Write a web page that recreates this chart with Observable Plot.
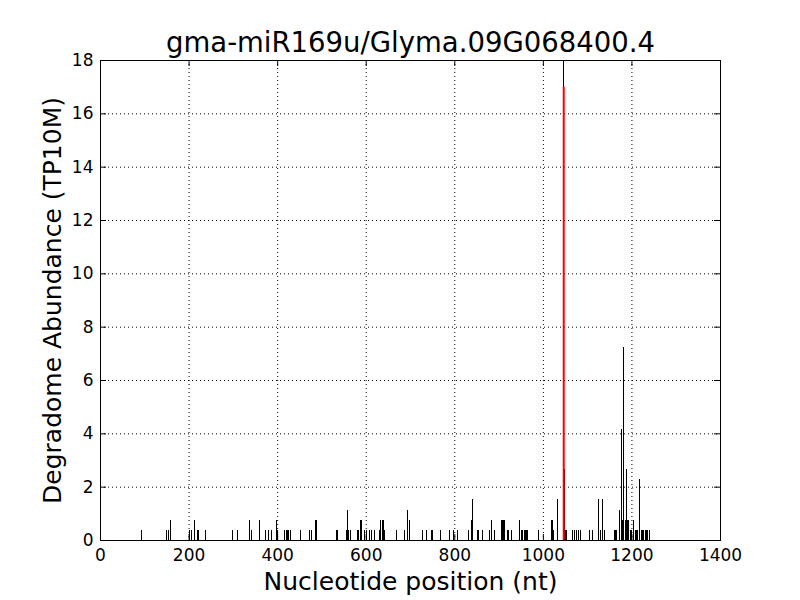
<!DOCTYPE html>
<html>
<head>
<meta charset="utf-8">
<script src="https://cdn.jsdelivr.net/npm/d3@7"></script>
<script src="https://cdn.jsdelivr.net/npm/@observablehq/plot@0.6"></script>
<style>
  html, body { margin: 0; padding: 0; background: #fff; }
</style>
</head>
<body>
<div id="chart"></div>
<script>
const titleText = "gma-miR169u/Glyma.09G068400.4";
const xLabel = "Nucleotide position (nt)";
const yLabel = "Degradome Abundance (TP10M)";

const xTicks = [0, 200, 400, 600, 800, 1000, 1200, 1400];
const yTicks = [0, 2, 4, 6, 8, 10, 12, 14, 16, 18];

// degradome read positions (nt) and abundance (TP10M)
const positions = [
  93, 150, 153, 158, 202, 206, 212, 219, 222, 237,
  299, 310, 337, 341, 360, 373, 379, 386, 398, 400,
  416, 419, 422, 425, 430, 452, 473, 476, 486, 488,
  532, 536, 555, 557, 561, 564, 580, 583, 586, 588,
  590, 596, 601, 608, 612, 618, 629, 633, 636, 639,
  641, 669, 686, 694, 698, 727, 737, 747, 750, 767,
  787, 798, 807, 832, 838, 841, 851, 854, 862, 878,
  884, 890, 905, 907, 910, 912, 919, 922, 928, 945,
  950, 953, 957, 960, 963, 965, 990, 1018, 1021, 1024,
  1033, 1046, 1047, 1048, 1050, 1053, 1066, 1070, 1075, 1079,
  1083, 1104, 1110, 1124, 1128, 1130, 1134, 1137, 1161, 1163,
  1166, 1173, 1176, 1178, 1180, 1182, 1185, 1188, 1190, 1193,
  1196, 1198, 1204, 1207, 1210, 1213, 1216, 1218, 1221, 1224,
  1227, 1230, 1233, 1236, 1239
];
const abundance = [
  0.38, 0.38, 0.38, 0.76, 0.38, 0.38, 0.76, 0.38, 0.38, 0.38,
  0.38, 0.38, 0.76, 0.38, 0.76, 0.38, 0.38, 0.38, 0.76, 0.38,
  0.38, 0.38, 0.38, 0.38, 0.38, 0.38, 0.38, 0.38, 0.76, 0.76,
  0.38, 0.38, 0.38, 1.14, 0.38, 0.38, 0.38, 0.38, 0.76, 0.76,
  0.76, 0.38, 0.38, 0.38, 0.38, 0.38, 0.38, 0.76, 0.76, 0.76,
  0.38, 0.38, 0.38, 1.14, 0.76, 0.38, 0.38, 0.38, 0.38, 0.38,
  0.38, 0.38, 0.38, 0.38, 0.76, 1.52, 0.38, 0.38, 0.38, 0.38,
  0.76, 0.38, 0.76, 0.76, 0.76, 0.76, 0.38, 0.38, 0.38, 0.76,
  0.38, 0.38, 0.38, 0.38, 0.38, 0.38, 0.38, 0.76, 0.76, 0.38,
  1.52, 18.0, 2.66, 0.38, 0.38, 0.38, 0.38, 0.38, 0.38, 0.38,
  0.38, 0.38, 0.38, 1.52, 0.38, 0.38, 1.52, 0.38, 0.38, 0.38,
  0.38, 1.14, 4.18, 0.76, 7.22, 0.76, 0.76, 2.66, 0.76, 0.76,
  0.38, 0.38, 0.76, 0.38, 0.38, 0.38, 0.38, 2.28, 0.38, 0.38,
  0.38, 0.38, 0.38, 0.38, 0.38
];

// predicted cleavage site
const sitePos = [1046];
const siteVal = [17.0];

const reads = positions.map((p, i) => ({pos: p, val: abundance[i]}));
const site = sitePos.map((p, i) => ({pos: p, val: siteVal[i]}));

const dotted = {stroke: "black", strokeWidth: 1, strokeDasharray: "1,3"};

const chart = Plot.plot({
  width: 800,
  height: 600,
  marginLeft: 100,
  marginRight: 80,
  marginTop: 60,
  marginBottom: 60,
  style: {fontFamily: "'DejaVu Sans', sans-serif", fontSize: "17px", color: "black", background: "white"},
  x: {domain: [0, 1400]},
  y: {domain: [0, 18]},
  marks: [
    Plot.ruleX(xTicks, dotted),
    Plot.ruleY(yTicks, dotted),
    Plot.ruleX(reads, {x: "pos", y: "val", stroke: "black", strokeWidth: 1, shapeRendering: "crispEdges"}),
    Plot.ruleX(site, {x: "pos", y: "val", stroke: "red", strokeWidth: 2}),
    // inward ticks on all four sides
    Plot.ruleX(xTicks, {stroke: "black", insetTop: 474}),
    Plot.ruleX(xTicks, {stroke: "black", insetBottom: 474}),
    Plot.ruleY(yTicks, {stroke: "black", insetRight: 614}),
    Plot.ruleY(yTicks, {stroke: "black", insetLeft: 614}),
    Plot.axisX({ticks: xTicks, tickSize: 0, tickPadding: 8, tickFormat: d => String(d), label: null, fontSize: 17}),
    Plot.axisY({ticks: yTicks, tickSize: 0, tickPadding: 7, tickFormat: d => String(d), label: null, fontSize: 17}),
    Plot.frame({stroke: "black", strokeWidth: 1}),
    Plot.text([titleText], {text: d => d, frameAnchor: "top", lineAnchor: "middle", textAnchor: "middle", dy: -17, fontSize: 27.5}),
    Plot.text([xLabel], {text: d => d, frameAnchor: "bottom", lineAnchor: "middle", textAnchor: "middle", dy: 41, fontSize: 25}),
    Plot.text([yLabel], {text: d => d, frameAnchor: "left", lineAnchor: "middle", textAnchor: "middle", dx: -48, rotate: -90, fontSize: 25})
  ]
});
document.getElementById("chart").appendChild(chart);
</script>
</body>
</html>
